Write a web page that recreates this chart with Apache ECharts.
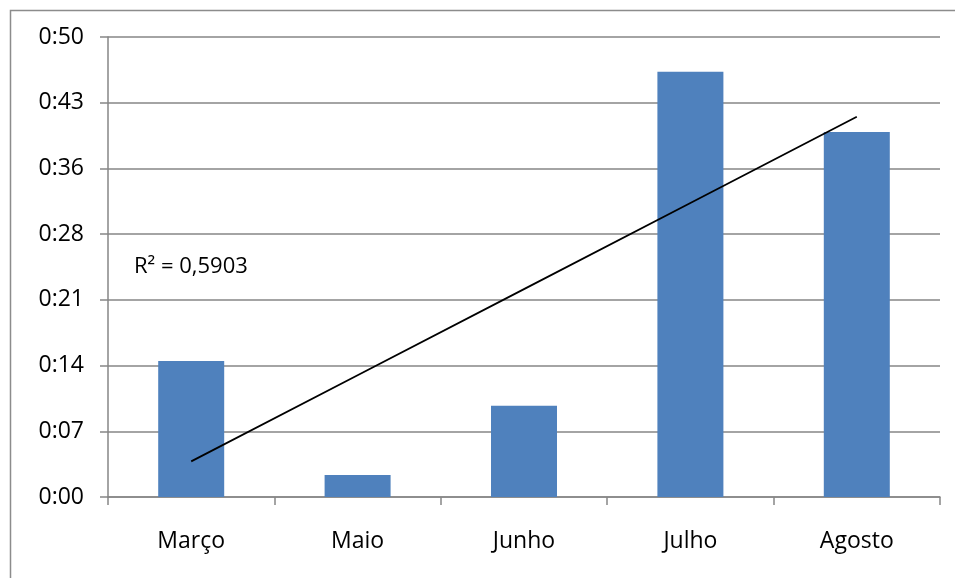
<!DOCTYPE html>
<html>
<head>
<meta charset="utf-8">
<script src="https://cdn.jsdelivr.net/npm/echarts@6/dist/echarts.min.js"></script>
<style>
  html, body { margin: 0; padding: 0; background: #fff; }
  #chart { width: 955px; height: 578px; }
</style>
</head>
<body>
<div id="chart"></div>
<script>
// meses e duração (minutos)
const meses = ['Março', 'Maio', 'Junho', 'Julho', 'Agosto'];
const duracao = [14.9, 2.4, 10.0, 46.6, 40.0];
// rótulos do eixo y (intervalo de 7,2 min, como no Excel)
const rotulosY = ['0:00', '0:07', '0:14', '0:21', '0:28', '0:36', '0:43', '0:50'];
const textoR2 = 'R² = 0,5903';

// linha de tendência linear (mínimos quadrados)
const n = duracao.length;
const mx = (n + 1) / 2;
const my = duracao.reduce((a, b) => a + b, 0) / n;
let sxy = 0, sxx = 0;
duracao.forEach((v, i) => {
  sxy += (i + 1 - mx) * (v - my);
  sxx += (i + 1 - mx) * (i + 1 - mx);
});
const inclinacao = sxy / sxx;
const tendencia = duracao.map((v, i) => my + inclinacao * (i + 1 - mx));

const fonte = '"Open Sans", "Liberation Sans", sans-serif';
const chart = echarts.init(document.getElementById('chart'), null, { renderer: 'canvas' });
chart.setOption({
  animation: false,
  backgroundColor: '#fff',
  grid: { left: 108, right: 15, top: 37, bottom: 81 },
  graphic: [
    {
      type: 'rect', left: 8, top: 8, silent: true,
      shape: { width: 1200, height: 1000 },
      style: { fill: 'none', stroke: '#8c8c8c', lineWidth: 1.5 }
    },
    {
      type: 'text', left: 134, top: 256,
      style: { text: textoR2, font: '22px ' + fonte, fill: '#000' }
    }
  ],
  xAxis: {
    type: 'category',
    data: meses,
    axisLine: { lineStyle: { color: '#868686', width: 1.5 } },
    axisTick: { show: true, length: 8, lineStyle: { color: '#868686', width: 1.5 } },
    axisLabel: { color: '#000', fontSize: 23, fontFamily: fonte, margin: 33 }
  },
  yAxis: {
    type: 'value',
    min: 0,
    max: 50.4,
    interval: 7.2,
    axisLine: { show: true, lineStyle: { color: '#868686', width: 1.5 } },
    axisTick: { show: true, length: 8, lineStyle: { color: '#868686', width: 1.5 } },
    splitLine: { lineStyle: { color: '#868686', width: 1.5 } },
    axisLabel: {
      color: '#000', fontSize: 23, fontFamily: fonte, margin: 24,
      formatter: (v, i) => rotulosY[i]
    }
  },
  series: [
    {
      type: 'bar',
      data: duracao,
      barWidth: 66,
      itemStyle: { color: '#4F81BD' }
    },
    {
      type: 'line',
      data: tendencia,
      symbol: 'none',
      lineStyle: { color: '#000', width: 1.8 },
      z: 5
    }
  ]
});
</script>
</body>
</html>
